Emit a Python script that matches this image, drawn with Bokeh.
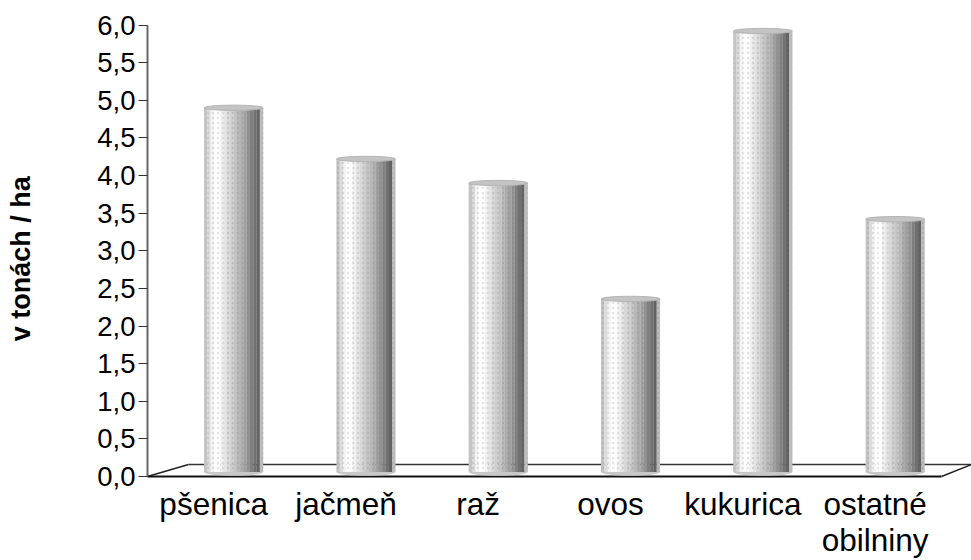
import math
from bokeh.plotting import figure
from bokeh.embed import file_html
from bokeh.resources import INLINE
from bokeh.models import Range1d, FixedTicker, Label

categories = ["pšenica", "jačmeň", "raž", "ovos", "kukurica", "ostatné"]
second_line = ["", "", "", "", "", "obilniny"]
values = [4.9, 4.22, 3.9, 2.36, 5.92, 3.42]
y_ticks = [0, 0.5, 1, 1.5, 2, 2.5, 3, 3.5, 4, 4.5, 5, 5.5, 6]
y_labels = ["0,0", "0,5", "1,0", "1,5", "2,0", "2,5", "3,0", "3,5", "4,0", "4,5", "5,0", "5,5", "6,0"]
shades = ["#c4c4c4", "#dcdcdc", "#f4f4f4", "#ffffff", "#fdfdfd", "#f0f0f0", "#e4e4e4", "#d8d8d8",
          "#cecece", "#c4c4c4", "#b8b8b8", "#acacac", "#a0a0a0", "#929292", "#808080", "#707070", "#626262", "#bcbcbc"]

FONT = "Liberation Sans"
UNIT = 132.3          # pixels per category
VUNIT = 75.25         # pixels per tonne
X_MAX = 824 / UNIT
DX = 41 / UNIT        # floor depth
DY = 12 / VUNIT
SHIFT = 20 / UNIT     # bars stand mid-floor
BW = 59 / UNIT
BASE = 0.06

p = figure(width=971, height=560, output_backend="svg", toolbar_location=None,
           x_range=Range1d(-147 / UNIT, X_MAX), y_range=Range1d(-84 / VUNIT, 6 + 24.5 / VUNIT),
           min_border=0, outline_line_color=None, background_fill_color="white")
p.grid.visible = False

xs = [i + 0.5 for i in range(len(categories))]

# floor
front_end = X_MAX - 30 / UNIT
p.line([DX, X_MAX], [DY, DY], line_color="#333333", line_width=1.5)
p.line([0, DX], [0, DY], line_color="#222222", line_width=1.5)
p.line([front_end, X_MAX], [0, DY], line_color="#222222", line_width=1.5)
p.line([0, front_end], [0, 0], line_color="#111111", line_width=2)

# cylinders
cxs = [x + SHIFT for x in xs]
p.ellipse(x=cxs, y=[BASE] * len(xs), width=BW, height=0.1, fill_color="#c8c8c8", line_color=None)
n = len(shades)
sw = BW / n
for k, s in enumerate(shades):
    cx = [x + SHIFT - BW / 2 + (k + 0.5) * sw for x in xs]
    p.vbar(x=cx, bottom=[BASE] * len(xs), top=values, width=sw * 1.04, fill_color=s, line_color=None,
           hatch_pattern="dot", hatch_color="#777777", hatch_alpha=0.2, hatch_scale=5, hatch_weight=1)
p.ellipse(x=cxs, y=values, width=BW, height=0.07, fill_color="#c4c4c4", line_color="#b4b4b4", line_width=1)

ax = p.xaxis[0]
ax.fixed_location = 0
ax.ticker = FixedTicker(ticks=xs)
ax.major_label_overrides = {x: c for x, c in zip(xs, categories)}
ax.axis_line_color = None
ax.major_tick_line_color = None
ax.minor_tick_line_color = None
ax.major_label_text_font = FONT
ax.major_label_text_font_size = "31.5px"
ax.major_label_text_color = "black"
ax.major_label_standoff = 3

for x, t in zip(xs, second_line):
    if t:
        p.add_layout(Label(x=x, y=0, y_offset=-63, text=t, text_align="center", text_baseline="middle",
                           text_font=FONT, text_font_size="31.5px", text_color="black"))

ay = p.yaxis[0]
ay.fixed_location = 0
ay.bounds = (0, 6)
ay.ticker = FixedTicker(ticks=y_ticks)
ay.major_label_overrides = {t: l for t, l in zip(y_ticks, y_labels)}
ay.axis_line_color = "#666666"
ay.axis_line_width = 2
ay.major_tick_line_color = "#333333"
ay.major_tick_line_width = 1
ay.major_tick_in = 0
ay.major_tick_out = 9
ay.minor_tick_line_color = None
ay.major_label_text_font = FONT
ay.major_label_text_font_size = "27.5px"
ay.major_label_text_color = "black"
ay.major_label_standoff = 3

p.add_layout(Label(x=20, y=3, x_units="screen", y_units="data", y_offset=-8,
                   text="v tonách / ha", angle=math.pi / 2,
                   text_align="center", text_baseline="middle",
                   text_font=FONT, text_font_size="27px", text_font_style="bold", text_color="black"))

open("out.html", "w").write(file_html(p, INLINE))
